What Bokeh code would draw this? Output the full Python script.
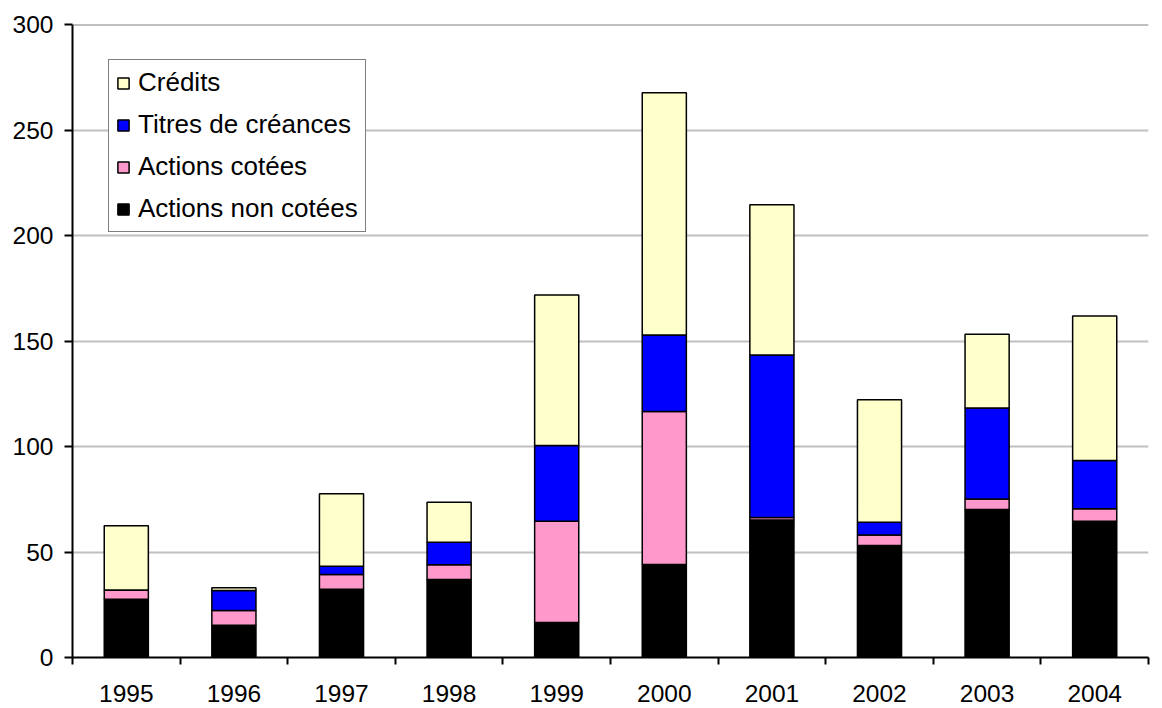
from bokeh.plotting import figure
from bokeh.models import (Range1d, FixedTicker, Legend, LegendItem, Span,
                          ColumnDataSource)
from bokeh.embed import file_html
from bokeh.resources import INLINE

years = ["1995", "1996", "1997", "1998", "1999", "2000", "2001", "2002", "2003", "2004"]
actions_non_cotees = [27.6, 15.3, 32.4, 37.0, 16.6, 44.1, 65.2, 53.1, 70.1, 64.6]
actions_cotees = [4.4, 7.0, 6.9, 6.9, 48.0, 72.5, 1.2, 5.0, 5.0, 5.9]
titres_creances = [0.0, 9.4, 4.0, 10.7, 35.9, 36.3, 77.0, 6.0, 43.1, 22.9]
credits = [30.4, 1.3, 34.3, 19.0, 71.3, 114.8, 71.2, 58.0, 35.0, 68.5]

series = ["Actions non cotées", "Actions cotées", "Titres de créances", "Crédits"]
colors = ["#000000", "#FF99CC", "#0000FF", "#FFFFCC"]

FONT = "Liberation Sans"

src = ColumnDataSource(dict(
    x=[i + 0.5 for i in range(len(years))],
    **{"Actions non cotées": actions_non_cotees,
       "Actions cotées": actions_cotees,
       "Titres de créances": titres_creances,
       "Crédits": credits},
))

p = figure(width=1162, height=708, output_backend="svg", toolbar_location=None,
           x_range=Range1d(0, len(years)), y_range=Range1d(0, 300),
           min_border_left=72, min_border_right=14, min_border_top=24,
           min_border_bottom=51)
p.outline_line_color = None
p.background_fill_color = "white"
p.border_fill_color = "white"

renderers = p.vbar_stack(series, x="x", width=0.41, source=src,
                         fill_color=colors, line_color="black", line_width=1.5)

# axes
p.xgrid.visible = False
p.ygrid.grid_line_color = "#C0C0C0"
p.ygrid.grid_line_width = 2
p.ygrid.ticker = FixedTicker(ticks=[50, 100, 150, 200, 250])
p.add_layout(Span(location=300, dimension="width", line_color="#808080", line_width=2))

p.yaxis.ticker = FixedTicker(ticks=[0, 50, 100, 150, 200, 250, 300])
p.yaxis.axis_line_width = 2
p.yaxis.axis_line_color = "black"
p.yaxis.major_tick_line_width = 2
p.yaxis.major_tick_in = 0
p.yaxis.major_tick_out = 8
p.yaxis.minor_tick_line_color = None
p.yaxis.major_label_text_font = FONT
p.yaxis.major_label_text_font_size = "24.5px"
p.yaxis.major_label_text_color = "black"
p.yaxis.major_label_standoff = 11

p.xaxis.ticker = FixedTicker(ticks=[i + 0.5 for i in range(len(years))],
                             minor_ticks=list(range(len(years) + 1)))
p.xaxis.major_label_overrides = {i + 0.5: y for i, y in enumerate(years)}
p.xaxis.axis_line_width = 2
p.xaxis.axis_line_color = "black"
p.xaxis.major_tick_line_color = None
p.xaxis.major_tick_in = 0
p.xaxis.major_tick_out = 0
p.xaxis.minor_tick_line_width = 2
p.xaxis.minor_tick_line_color = "black"
p.xaxis.minor_tick_in = 0
p.xaxis.minor_tick_out = 7
p.xaxis.major_label_text_font = FONT
p.xaxis.major_label_text_font_size = "24.5px"
p.xaxis.major_label_text_color = "black"
p.xaxis.major_label_standoff = 20

legend = Legend(
    items=[LegendItem(label=s, renderers=[r]) for s, r in reversed(list(zip(series, renderers)))],
    location=(36, 425),
    border_line_color="black", border_line_width=1.5,
    background_fill_color="white", background_fill_alpha=1.0,
    label_text_font=FONT, label_text_font_size="26px", label_text_color="black",
    glyph_width=14, glyph_height=14, label_standoff=8,
    label_height=24, spacing=11, padding=7, margin=0,
)
p.add_layout(legend, "center")

open("out.html", "w").write(file_html(p, INLINE))
